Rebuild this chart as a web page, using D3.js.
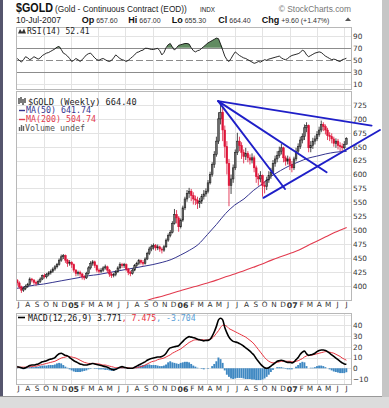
<!DOCTYPE html>
<html>
<head>
<meta charset="utf-8">
<script src="https://cdn.jsdelivr.net/npm/d3@7"></script>
<style>
body { margin: 0; background: #fff; }
svg { display: block; }
</style>
</head>
<body>
<script>
// weekly gold candles, Jul 2004 - Jul 2007
const firstOpen = 410;
const closes = [405,398,392,395,399,402,412,410,406,404,
  408,412,418,416,420,423,426,430,434,438,
  446,452,454,446,440,442,438,428,422,424,
  421,416,414,422,432,440,443,436,428,426,
  428,432,434,428,421,418,420,425,432,438,
  436,438,430,424,422,428,436,440,445,442,
  440,448,458,466,470,472,468,470,466,464,
  470,482,490,496,512,528,522,506,518,540,
  556,566,570,562,556,554,548,552,560,565,
  570,585,600,618,636,660,700,712,680,650,
  620,580,592,612,640,660,652,640,632,638,
  630,626,630,612,596,592,598,580,578,590,
  598,604,620,628,634,642,648,630,624,628,
  618,612,628,642,650,662,668,684,688,648,
  652,660,664,672,680,690,686,680,670,668,
  664,656,660,652,650,648,654,664.4];
const highs = [412,408,400,398,402,405,415,414,412,409,
  411,415,420,422,423,426,429,433,437,441,
  449,456,457,456,448,446,444,440,430,427,
  427,423,419,425,435,444,446,445,438,431,
  432,435,438,436,430,424,423,428,435,442,
  441,441,440,432,427,431,439,443,448,447,
  446,451,461,470,474,476,475,474,472,469,
  473,485,494,500,516,538,536,525,521,544,
  560,572,576,574,568,562,560,558,565,572,
  575,590,605,622,642,668,712,730,720,688,
  660,628,600,618,645,675,668,658,645,648,
  642,636,638,634,616,602,606,600,588,596,
  606,612,626,634,642,650,655,650,634,634,
  632,624,632,648,656,668,674,690,694,690,
  660,666,670,678,686,697,694,690,684,676,
  674,668,665,664,658,656,660,667];
const lows = [400,394,387,389,392,396,400,406,402,400,
  402,405,410,413,413,417,420,423,427,431,
  436,443,448,441,434,436,432,424,417,418,
  416,411,410,412,420,429,436,432,424,422,
  423,425,429,423,416,414,415,417,423,429,
  432,432,426,419,417,420,426,433,437,438,
  436,438,446,455,462,465,463,464,461,458,
  461,468,479,487,494,510,512,497,503,515,
  536,551,558,552,546,545,538,540,547,555,
  560,566,582,596,612,632,655,690,660,630,
  600,543,565,585,608,635,642,628,620,626,
  622,618,620,604,585,580,586,560,566,572,
  585,592,600,614,622,630,636,622,616,618,
  608,604,608,624,638,646,656,662,676,640,
  640,646,654,660,668,676,678,672,662,660,
  656,650,648,645,642,642,645,655.3];

// moving averages, sampled at month starts (last = 10-Jul-2007)
const ma50 = [395,398,401,403,406,409,412,415,418,420,423,426,
  429,432,435,438,442,447,455,464,474,492,510,530,
  545,556,571,583,597,607,616,623,629,633,637,640,641.74];
const ma200 = [316,320,324,328,332,337,341,345,349,353,357,361,
  365,369,372,377,381,386,391,396,400,405,410,416,
  421,427,433,439,446,452,458,464,472,480,488,496,504.74];

const rsi = [52,49,46,50,55,53,50,52,55,53,
  51,53,57,59,61,62,64,66,68,71,
  72,67,61,59,56,52,47,49,52,50,
  47,50,54,58,60,61,57,53,50,49,
  51,52,50,48,47,49,53,58,55,52,
  50,49,47,49,52,55,58,62,63,65,
  66,69,69,68,67,67,68,69,65,58,
  62,70,75,77,71,66,70,74,75,76,
  77,77,76,70,65,63,65,66,69,72,
  75,78,80,82,84,86,85,76,66,56,
  50,47,52,58,63,60,57,55,53,52,
  50,48,46,44,45,47,46,48,50,49,
  51,52,53,54,55,56,53,51,50,52,
  55,57,58,59,60,62,66,64,58,55,
  57,59,61,62,63,62,59,56,54,52,
  50,51,50,48,47,50,51,52.41];

const macd = [1.5,1,0.5,0,0.5,1.5,2.5,3,3,3.5,
  4,5,6,6.5,7,8,8.5,9,10,12,
  13.5,14,13,12,11.5,10,8.5,7,6,5,
  4,3.5,3,3,3.5,4,4.5,4,3.5,3,
  2.5,2,1.5,1,0,-1,-1.5,-1,0,1,
  1.5,1,0.5,0,0,0,1,2,3,4,
  5,6,7.5,8.5,9,9.5,10,10.5,10.5,11,
  12,14,17,19,19.5,20,20.5,21,23,25,
  27,28.5,29.5,29,28.5,28,27,26.5,26,25.5,
  26,26,27,30,34,39,45,46.5,45,38,
  33,29,26.5,25,24.5,24,23,22,20.5,19,
  17.5,16,14,12,9,6.5,4,2,0.5,0,
  0.5,2,3.5,5,6.5,7,7.5,7,6,5.5,
  5.5,5,6,8,10,13,15,16,13.5,12,
  12.5,13,14,15.5,16.5,17,17,16.5,15.5,14,
  12.5,11,9.5,8,6.5,5,4,3.771];
const signal = [1,1,1,1,1,1,1.5,1.5,2,2,
  2.5,3,3.5,4,4.5,5,5.5,6,6.5,7.5,
  8.5,9.5,10,10.5,11,11,10.5,10,9.5,8.5,
  7.5,6.5,5.5,5,4.5,4.5,4.5,4.5,4,4,
  3.5,3,3,2.5,2,1.5,1,0.5,0.5,0.5,
  0.5,0.5,0.5,0.5,0,0,0.5,0.5,1,1.5,
  2,3,4,5,6,6.5,7,8,8.5,9,
  9.5,10.5,11.5,12.5,14,15,16,17,18,19.5,
  21,22.5,24,25,26,26.5,26.5,26.5,26.5,26.5,
  26,26.5,27,28,30,32.5,35,38,40,40,
  39,37,36,35,34,33,32,31,30,29,
  27.5,26,24.5,22.5,20,17.5,15,12.5,10,8,
  6.5,5.5,5,5,5.5,6,6.5,6.5,6.5,6.5,
  6.5,6,6,6.5,7,8,9,10.5,11.5,12,
  12,12.5,13,13.5,14,14.5,15,15.5,15.5,15,
  14.5,14,13,12,11,9.5,8.5,7.475];
const histogram = [0.5,0,-0.5,-1,-0.5,0.5,1,1.5,1,1.5,
  1.5,2,2.5,2.5,2.5,3,3,3,3.5,4.5,
  5,4.5,3,1.5,0.5,-1,-2,-3,-3.5,-3.5,
  -3.5,-3,-2.5,-2,-1,-0.5,0,-0.5,-0.5,-1,
  -1,-1,-1.5,-1.5,-2,-2.5,-2.5,-1.5,-0.5,0.5,
  1,0.5,0,-0.5,0,0,0.5,1.5,2,2.5,
  3,3,3.5,3.5,3,3,3,2.5,2,2,
  2.5,3.5,5.5,6.5,5.5,5,4.5,4,5,5.5,
  6,6,5.5,4,2.5,1.5,0.5,0,-0.5,-1,
  0,-0.5,0,2,4,6.5,10,8.5,5,-2,
  -6,-8,-9.5,-10,-9.5,-9,-9,-9,-9.5,-10,
  -10,-10,-10.5,-10.5,-11,-11,-11,-10.5,-9.5,-8,
  -6,-3.5,-1.5,0,1,1,1,0.5,-0.5,-1,
  -1,-1,0,1.5,3,5,6,5.5,2,0,
  0.5,0.5,1,2,2.5,2.5,2,1,0,-1,
  -2,-3,-3.5,-4,-4.5,-4.5,-4.5,-3.704];

// hand drawn trend lines: [date, price] -> [date, price]
const trendLines = [
  [["2006-05-07", 732], ["2007-10-01", 688]],
  [["2006-05-07", 732], ["2007-05-04", 604]],
  [["2006-05-07", 732], ["2006-12-16", 574]],
  [["2006-10-05", 558], ["2007-10-29", 680]]
];

const priceTicks = [400,425,450,475,500,525,550,575,600,625,650,675,700,725];
const priceGrid = [375,400,425,450,475,500,525,550,575,600,625,650,675,700,725,750];
const rsiTicks = [10,30,50,70,90];
const macdTicks = [-10,0,10,20,30,40];
const monthLetters = ["J","F","M","A","M","J","J","A","S","O","N","D"];
const quoteLabels = ["Op", "Hi", "Lo", "Cl", "Chg"];
const quoteValues = ["657.60", "667.00", "655.30", "664.40", "+9.60 (+1.47%)"];

const W = 389, H = 408;
const L = 16, R = 351;
const rsiTop = 27, rsiBot = 89;
const pTop = 91, pBot = 300;
const mTop = 313, mBot = 384;
const sans = "'Liberation Sans', Arial, sans-serif";
const dv = "'DejaVu Sans', Verdana, sans-serif";
const mono = "'DejaVu Sans Mono', monospace";

const parse = d3.timeParse("%Y-%m-%d");
const firstWeek = new Date(2004, 6, 5);
const weeks = d3.range(closes.length).map(i => d3.timeDay.offset(firstWeek, 7 * i));
const opens = closes.map((c, i) => i === 0 ? firstOpen : closes[i - 1]);
const maDates = d3.timeMonth.range(new Date(2004, 6, 1), new Date(2007, 6, 1)).concat([new Date(2007, 6, 10)]);
const months = d3.timeMonth.range(new Date(2004, 6, 1), new Date(2007, 6, 2));
const quarters = months.filter(d => d.getMonth() % 3 === 0);

const x = d3.scaleTime().domain([new Date(2004, 6, 1), new Date(2007, 6, 1)]).range([L, 344]);
const y = d3.scaleLinear().domain([400, 725]).range([285.7, 105]);
const yR = d3.scaleLinear().domain([30, 70]).range([71.7, 47.7]);
const yM = d3.scaleLinear().domain([-10, 40]).range([379, 325.3]);

const svg = d3.select("body").append("svg").attr("width", W).attr("height", H);

// page frame
svg.append("rect").attr("width", W).attr("height", H).attr("fill", "#dcdcdc");
svg.append("rect").attr("x", 3).attr("y", 0).attr("width", 379).attr("height", 396).attr("fill", "#fff");
svg.append("rect").attr("x", 0).attr("y", 0).attr("width", 3).attr("height", 397).attr("fill", "#55556d");
svg.append("rect").attr("x", 0).attr("y", 396).attr("width", 382).attr("height", 1).attr("fill", "#999");
svg.append("rect").attr("x", 382).attr("y", 0).attr("width", 7).attr("height", 397).attr("fill", "#c6c6c6");

function panel(top, bot, grid, scale) {
  const g = svg.append("g");
  g.append("rect").attr("x", L + 0.5).attr("y", top + 0.5).attr("width", R - L).attr("height", bot - top)
    .attr("fill", "#fff");
  g.selectAll(".vg").data(quarters).join("line")
    .attr("x1", d => Math.round(x(d)) + 0.5).attr("x2", d => Math.round(x(d)) + 0.5)
    .attr("y1", top).attr("y2", bot).attr("stroke", "#e3e3e3");
  g.selectAll(".hg").data(grid.filter(v => scale(v) > top && scale(v) < bot)).join("line")
    .attr("x1", L).attr("x2", R)
    .attr("y1", d => Math.round(scale(d)) + 0.5).attr("y2", d => Math.round(scale(d)) + 0.5)
    .attr("stroke", "#e3e3e3");
  return g;
}
function frame(top, bot) {
  svg.append("rect").attr("x", L + 0.5).attr("y", top + 0.5).attr("width", R - L).attr("height", bot - top)
    .attr("fill", "none").attr("stroke", "#b8b8b8");
}
function yAxis(scale, ticks) {
  svg.append("g").attr("transform", `translate(${R},0)`)
    .call(d3.axisRight(scale).tickValues(ticks).tickSize(0).tickPadding(2))
    .call(g => g.select(".domain").remove())
    .attr("font-family", dv).attr("font-size", 7.3)
    .selectAll("text").attr("fill", "#333");
}
function xAxis(top) {
  svg.append("g").attr("transform", `translate(0,${top})`)
    .call(d3.axisBottom(x).tickValues(months).tickSize(0).tickPadding(2)
      .tickFormat(d => d.getMonth() === 0 ? d3.timeFormat("%y")(d) : monthLetters[d.getMonth()]))
    .call(g => g.select(".domain").remove())
    .attr("font-family", dv).attr("font-size", 7.3)
    .selectAll("text")
    .attr("dx", 2)
    .attr("fill", "#333")
    .attr("font-weight", d => d.getMonth() === 0 ? "bold" : "normal")
    .attr("font-size", d => d.getMonth() === 0 ? 7.8 : 7.3);
}

// ---------- header ----------
svg.append("text").attr("x", 16).attr("y", 12).attr("font-family", sans).attr("font-weight", "bold")
  .attr("font-size", 12.5).attr("textLength", 37).attr("lengthAdjust", "spacingAndGlyphs").attr("fill", "#111").text("$GOLD");
svg.append("text").attr("x", 55).attr("y", 11.5).attr("font-family", sans).attr("font-size", 8.3)
  .attr("fill", "#222").text("(Gold - Continuous Contract (EOD))");
svg.append("text").attr("x", 200).attr("y", 11.5).attr("font-family", sans).attr("font-size", 6.3)
  .attr("fill", "#222").text("INDX");
svg.append("text").attr("x", 351).attr("y", 11.5).attr("text-anchor", "end").attr("font-family", sans)
  .attr("font-size", 8.4).attr("fill", "#777").text("\u00a9 StockCharts.com");
svg.append("text").attr("x", 16).attr("y", 22.5).attr("font-family", sans).attr("font-size", 8.5)
  .attr("fill", "#222").text("10-Jul-2007");
const quoteX = [81.7, 128.3, 171.7, 218.3, 261.7];
const quoteLine = svg.append("text").attr("y", 22.5).attr("font-family", sans);
quoteLabels.forEach((lab, k) => {
  quoteLine.append("tspan").attr("x", quoteX[k]).attr("font-size", 9).attr("font-weight", "bold")
    .attr("fill", "#111").text(lab);
  quoteLine.append("tspan").attr("font-size", 7).attr("fill", "#333").text("\u00a0" + quoteValues[k]);
});
svg.append("path").attr("d", "M345,21 L348,17.5 L351,21 Z").attr("fill", "#555");

// ---------- RSI panel ----------
panel(rsiTop, rsiBot, [10, 90], yR);
[30, 70].forEach(v => svg.append("line").attr("x1", L).attr("x2", R)
  .attr("y1", Math.round(yR(v)) + 0.5).attr("y2", Math.round(yR(v)) + 0.5).attr("stroke", "#8c8c8c"));
svg.append("line").attr("x1", L).attr("x2", R)
  .attr("y1", Math.round(yR(50)) + 0.5).attr("y2", Math.round(yR(50)) + 0.5)
  .attr("stroke", "#8c8c8c").attr("stroke-dasharray", "7,3");
svg.append("path").datum(rsi)
  .attr("d", d3.area().x((d, i) => x(weeks[i])).y0(yR(70)).y1(d => yR(Math.max(d, 70))))
  .attr("fill", "#507e50").attr("opacity", 0.9);
svg.append("path").datum(rsi)
  .attr("d", d3.line().x((d, i) => x(weeks[i])).y(d => yR(d)))
  .attr("fill", "none").attr("stroke", "#111").attr("stroke-width", 0.9);
frame(rsiTop, rsiBot);
yAxis(yR, rsiTicks);
svg.append("path").attr("d", "M18,33.5 L20,29 L22,32 L24,28.5 L26,33.5 Z").attr("fill", "#333");
svg.append("text").attr("x", 27).attr("y", 34).attr("font-family", mono).attr("font-size", 8)
  .attr("fill", "#222").text("RSI(14) 52.41");

// ---------- price panel ----------
panel(pTop, pBot, priceGrid, y);
svg.append("clipPath").attr("id", "pclip").append("rect")
  .attr("x", L).attr("y", pTop).attr("width", R - L).attr("height", pBot - pTop);
const pg = svg.append("g").attr("clip-path", "url(#pclip)");

pg.append("path").datum(ma200)
  .attr("d", d3.line().curve(d3.curveMonotoneX).x((d, i) => x(maDates[i])).y(d => y(d)))
  .attr("fill", "none").attr("stroke", "#e23a4e").attr("stroke-width", 1.1);
pg.append("path").datum(ma50)
  .attr("d", d3.line().curve(d3.curveMonotoneX).x((d, i) => x(maDates[i])).y(d => y(d)))
  .attr("fill", "none").attr("stroke", "#35358f").attr("stroke-width", 1);

const upCol = "#1a1a1a", dnCol = "#dd1438";
const idx = d3.range(closes.length);
const candleCol = i => closes[i] >= opens[i] ? upCol : dnCol;
pg.selectAll(".wick").data(idx).join("line")
  .attr("x1", i => x(weeks[i])).attr("x2", i => x(weeks[i]))
  .attr("y1", i => y(highs[i])).attr("y2", i => y(lows[i]))
  .attr("stroke", candleCol).attr("stroke-width", 0.8);
pg.selectAll(".body").data(idx).join("rect")
  .attr("x", i => x(weeks[i]) - 0.85).attr("width", 1.7)
  .attr("y", i => y(Math.max(opens[i], closes[i])))
  .attr("height", i => Math.max(0.8, Math.abs(y(opens[i]) - y(closes[i]))))
  .attr("fill", i => closes[i] >= opens[i] ? "#6a6a6a" : dnCol)
  .attr("stroke", candleCol).attr("stroke-width", 0.5);

frame(pTop, pBot);
yAxis(y, priceTicks);

// trend lines drawn over everything (they run past the panel edge)
svg.selectAll(".trend").data(trendLines).join("line")
  .attr("x1", d => x(parse(d[0][0]))).attr("y1", d => y(d[0][1]))
  .attr("x2", d => x(parse(d[1][0]))).attr("y2", d => y(d[1][1]))
  .attr("stroke", "#1f1fc8").attr("stroke-width", 1.9).attr("stroke-linecap", "round");

// price legend
svg.append("path").attr("d", "M19,98 V104 M21,97 V103 M23,99 V105 M25,98 V103").attr("stroke", "#333").attr("stroke-width", 1.3);
svg.append("text").attr("x", 28).attr("y", 104.5).attr("font-family", mono).attr("font-size", 8.6)
  .attr("fill", "#222").text("$GOLD (Weekly) 664.40");
svg.append("line").attr("x1", 19).attr("x2", 25).attr("y1", 110.5).attr("y2", 110.5).attr("stroke", "#35358f").attr("stroke-width", 1.4);
svg.append("text").attr("x", 26).attr("y", 113).attr("font-family", mono).attr("font-size", 8.3)
  .attr("fill", "#35358f").text("MA(50) 641.74");
svg.append("line").attr("x1", 19).attr("x2", 25).attr("y1", 119.5).attr("y2", 119.5).attr("stroke", "#e23a4e").attr("stroke-width", 1.4);
svg.append("text").attr("x", 26).attr("y", 122).attr("font-family", mono).attr("font-size", 8.3)
  .attr("fill", "#e23a4e").text("MA(200) 504.74");
svg.append("path").attr("d", "M19.5,131 V127 M21.5,131 V125 M23.5,131 V126").attr("stroke", "#666").attr("stroke-width", 1.4);
svg.append("text").attr("x", 25).attr("y", 131).attr("font-family", mono).attr("font-size", 8.3)
  .attr("fill", "#555").text("Volume undef");

xAxis(pBot);

// ---------- MACD panel ----------
panel(mTop, mBot, [-10, 0, 10, 20, 30, 40, 50], yM);
svg.selectAll(".hist").data(idx).join("rect")
  .attr("x", i => x(weeks[i]) - 1).attr("width", 1.9)
  .attr("y", i => Math.min(yM(0), yM(histogram[i])))
  .attr("height", i => Math.abs(yM(histogram[i]) - yM(0)))
  .attr("fill", "#3f88c2");
svg.append("path").datum(signal)
  .attr("d", d3.line().curve(d3.curveMonotoneX).x((d, i) => x(weeks[i])).y(d => yM(d)))
  .attr("fill", "none").attr("stroke", "#e8343f").attr("stroke-width", 1);
svg.append("path").datum(macd)
  .attr("d", d3.line().curve(d3.curveMonotoneX).x((d, i) => x(weeks[i])).y(d => yM(d)))
  .attr("fill", "none").attr("stroke", "#000").attr("stroke-width", 1.6);
frame(mTop, mBot);
yAxis(yM, macdTicks);
svg.append("line").attr("x1", 18).attr("x2", 25).attr("y1", 317.5).attr("y2", 317.5).attr("stroke", "#000").attr("stroke-width", 1.6);
const macdLegend = svg.append("text").attr("x", 28).attr("y", 320.5).attr("font-family", mono).attr("font-size", 8.2);
macdLegend.append("tspan").attr("fill", "#111").text("MACD(12,26,9) 3.771");
macdLegend.append("tspan").attr("fill", "#e8343f").text(", 7.475");
macdLegend.append("tspan").attr("fill", "#5aa0d6").text(", -3.704");

xAxis(mBot);
</script>
</body>
</html>
